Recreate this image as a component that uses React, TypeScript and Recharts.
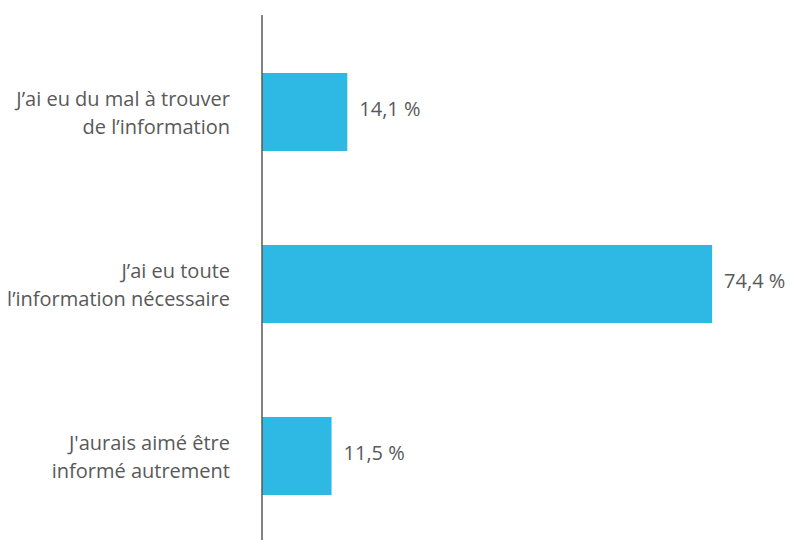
import React from 'react';
import { BarChart, Bar, XAxis, YAxis, LabelList } from 'recharts';

const categories = [
  "J’ai eu du mal à trouver\nde l’information",
  "J’ai eu toute\nl’information nécessaire",
  "J'aurais aimé être\ninformé autrement",
];
const shares = [14.1, 74.4, 11.5];

const data = categories.map((c, i) => ({ name: c, value: shares[i] }));

const FONT = '"Open Sans", Lato, sans-serif';
const TEXT = '#595959';

const CategoryTick = (props: any) => {
  const { x, y, payload } = props;
  const lines = String(payload.value).split('\n');
  const lh = 28;
  const start = y - ((lines.length - 1) * lh) / 2 + 3;
  return (
    <text x={x - 24} y={start} textAnchor="end" fill={TEXT} fontFamily={FONT} fontSize={20} dominantBaseline="middle">
      {lines.map((l, i) => (
        <tspan key={i} x={x - 24} y={start + i * lh}>{l}</tspan>
      ))}
    </text>
  );
};

const fmt = (v: any) => String(v).replace('.', ',') + ' %';

export default function App() {
  return (
    <div style={{ position: 'absolute', left: 0, top: 0, width: 795, height: 540, overflow: 'hidden', background: '#fff' }}>
      <BarChart
        width={795}
        height={542}
        data={data}
        layout="vertical"
        margin={{ top: 15, right: 49, bottom: 0, left: 0 }}
      >
        <XAxis type="number" domain={[0, 80]} hide />
        <YAxis
          type="category"
          dataKey="name"
          width={262}
          padding={{ top: 11, bottom: 0 }}
          axisLine={{ stroke: '#595959', strokeWidth: 1.5 }}
          tickLine={false}
          tick={<CategoryTick />}
          interval={0}
        />
        <Bar dataKey="value" fill="#2DB9E3" barSize={78} isAnimationActive={false}>
          <LabelList
            dataKey="value"
            position="right"
            offset={12}
            formatter={fmt}
            fill={TEXT}
            fontFamily={FONT}
            fontSize={20}
            dy={-3}
          />
        </Bar>
      </BarChart>
    </div>
  );
}
